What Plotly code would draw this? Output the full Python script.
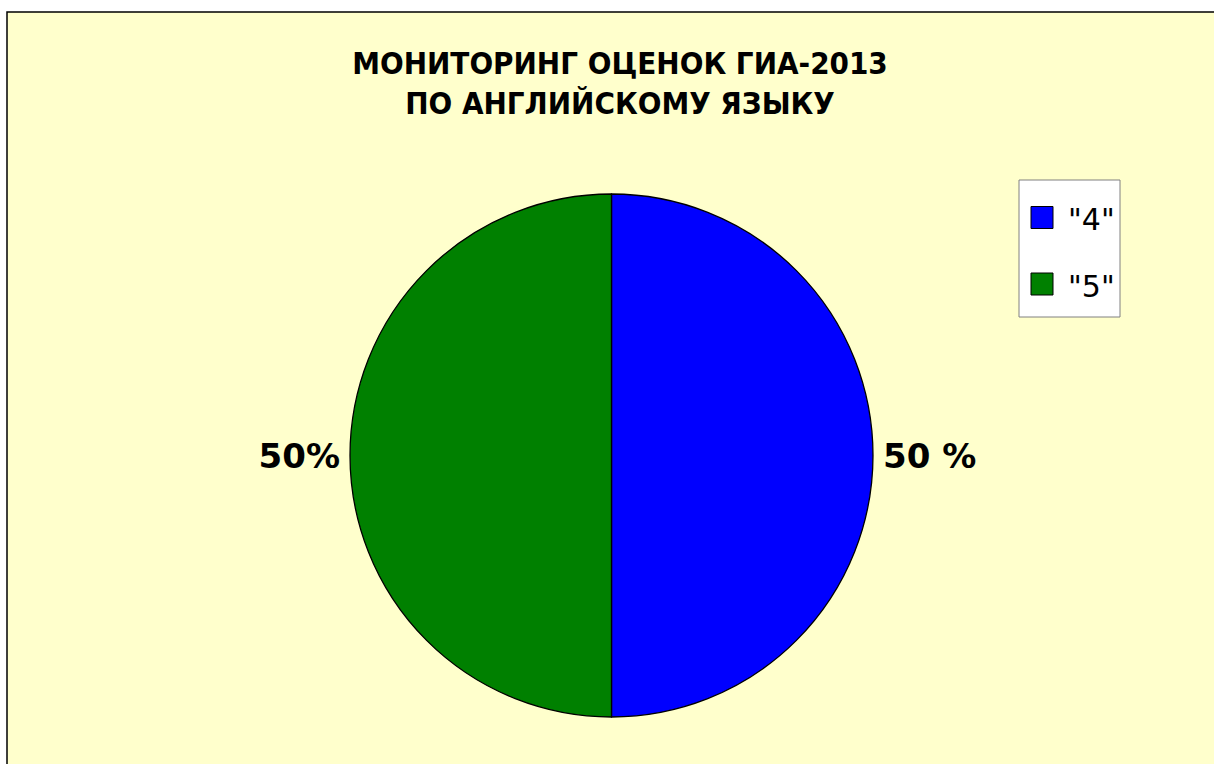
import plotly.graph_objects as go

categories = ['"4"', '"5"']
values = [50, 50]
value_labels = ["50 %", "50%"]
colors = ["#0000FF", "#008000"]

W, H = 1214, 764

fig = go.Figure(
    go.Pie(
        labels=categories,
        values=values,
        text=value_labels,
        textinfo="text",
        textposition="outside",
        sort=False,
        direction="clockwise",
        rotation=0,
        showlegend=False,
        marker=dict(colors=colors, line=dict(color="#000000", width=1.3)),
        textfont=dict(family="DejaVu Sans", size=34, color="#000000", weight="bold"),
        domain=dict(x=[(611.5 - 261.5) / W, (611.5 + 261.5) / W],
                    y=[(H - 455.5 - 261.5) / H, (H - 455.5 + 261.5) / H]),
        hoverinfo="label+percent",
    )
)

# legend drawn as layout shapes/annotations, built from categories & colors
px = lambda v: v / W
py = lambda v: 1 - v / H
shapes = [
    dict(type="rect", xref="paper", yref="paper",
         x0=px(7), x1=1.02, y0=-0.02, y1=py(12),
         fillcolor="#FFFFCC", line=dict(color="#000000", width=1.5), layer="below"),
    dict(type="rect", xref="paper", yref="paper",
         x0=px(1019), x1=px(1120), y0=py(317), y1=py(180),
         fillcolor="#FFFFFF", line=dict(color="#808080", width=1), layer="above"),
]
annotations = []
item_centers = [217.5, 284]
for cat, col, yc in zip(categories, colors, item_centers):
    shapes.append(dict(type="rect", xref="paper", yref="paper",
                       x0=px(1031), x1=px(1053), y0=py(yc + 11), y1=py(yc - 11),
                       fillcolor=col, line=dict(color="#000000", width=1), layer="above"))
    annotations.append(dict(text=cat, xref="paper", yref="paper",
                            x=px(1066), y=py(yc + 2), xanchor="left", yanchor="middle",
                            showarrow=False,
                            font=dict(family="DejaVu Sans", size=30, color="#000000")))

fig.update_layout(
    width=W,
    height=H,
    margin=dict(l=0, r=0, t=0, b=0),
    paper_bgcolor="#FFFFFF",
    plot_bgcolor="#FFFFCC",
    title=dict(
        text="МОНИТОРИНГ ОЦЕНОК ГИА-2013<br>ПО АНГЛИЙСКОМУ ЯЗЫКУ",
        x=620 / W,
        xanchor="center",
        y=1 - 74 / H,
        yanchor="top",
        font=dict(family="DejaVu Sans Condensed, DejaVu Sans", size=31,
                  color="#000000", weight="bold"),
    ),
    showlegend=False,
    shapes=shapes,
    annotations=annotations,
)

fig.write_html("out.html", config={"displayModeBar": False},
               post_script="document.body.style.margin='0px';")
